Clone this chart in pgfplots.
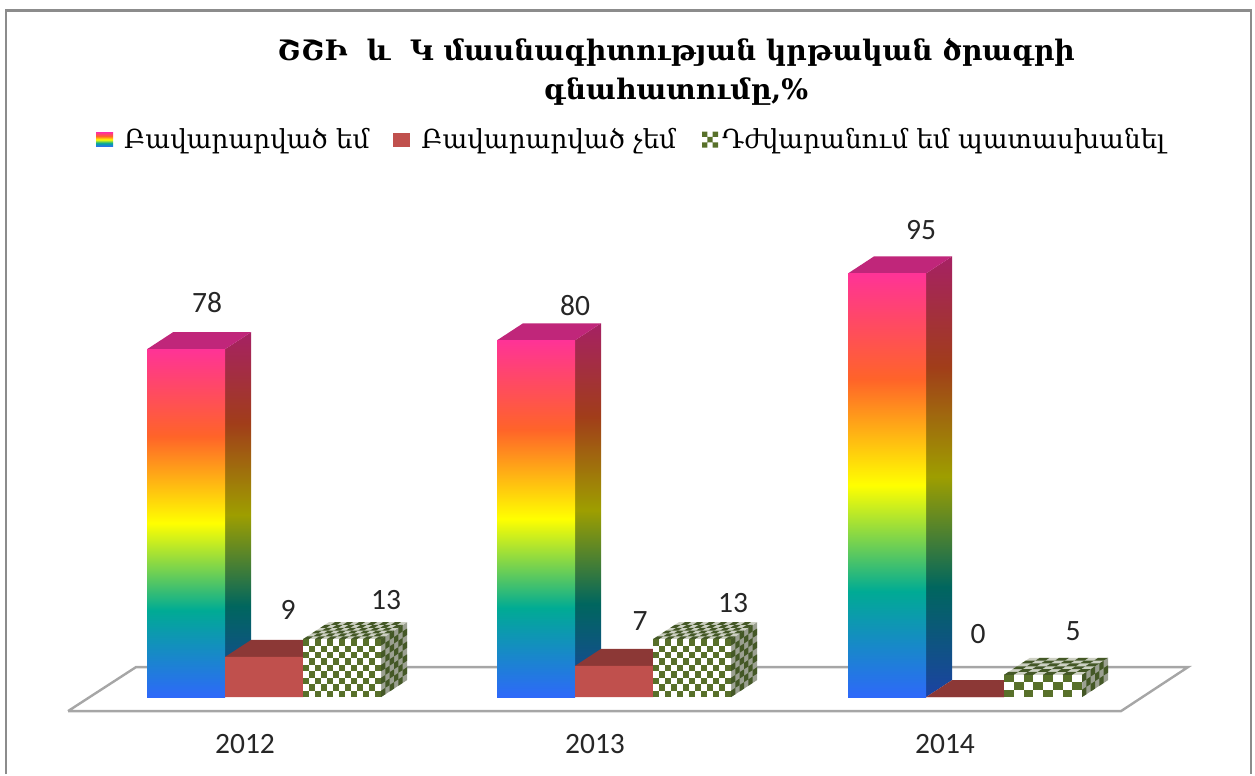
\documentclass[border=0pt]{standalone}
\usepackage{pgfplots}
\pgfplotsset{compat=1.18}
\usepackage{fontspec}
\setmainfont{Carlito}
\newfontfamily\armfont{DejaVu Serif}
\definecolor{s2front}{RGB}{192,80,77}
\definecolor{s2dark}{RGB}{140,56,54}
\definecolor{s3green}{RGB}{88,112,42}
\definecolor{s3dark}{RGB}{68,88,38}
\definecolor{s3top}{RGB}{205,208,195}
\definecolor{s3side}{RGB}{155,160,145}
\definecolor{s1top}{RGB}{192,38,122}
\definecolor{floorc}{RGB}{166,166,166}
\definecolor{framec}{RGB}{140,140,140}
\pgfdeclareverticalshading{rainbowfront}{100bp}{
 rgb(0bp)=(0.18,0.41,0.98);
 rgb(25bp)=(0.18,0.41,0.98);
 rgb(37.5bp)=(0,0.67,0.58);
 rgb(50bp)=(1,1,0);
 rgb(62.5bp)=(1,0.39,0.16);
 rgb(75bp)=(1,0.2,0.59);
 rgb(100bp)=(1,0.2,0.59)}
\pgfdeclareverticalshading{rainbowside}{100bp}{
 rgb(0bp)=(0.11,0.26,0.64);
 rgb(25bp)=(0.11,0.26,0.64);
 rgb(37.5bp)=(0,0.40,0.37);
 rgb(50bp)=(0.62,0.62,0);
 rgb(62.5bp)=(0.63,0.24,0.10);
 rgb(75bp)=(0.65,0.13,0.39);
 rgb(100bp)=(0.65,0.13,0.39)}
% sides and top of a box: x of front left, value, side style, top style
\newcommand{\boxsides}[4]{%
 \pgfmathsetmacro\xa{#1+78}\pgfmathsetmacro\xb{#1+104}\pgfmathsetmacro\xc{#1+26}\pgfmathsetmacro\yt{#2+3.81}%
 \addplot[forget plot,draw=none,#3] coordinates {(\xa,0)(\xb,3.81)(\xb,\yt)(\xa,#2)(\xa,0)};
 \addplot[forget plot,draw=none,#4] coordinates {(#1,#2)(\xc,\yt)(\xb,\yt)(\xa,#2)(#1,#2)};
}
% checker on a parallelogram
\newcommand{\checkface}[9]{%
 \pgfplotsextra{%
 \pgfmathsetmacro\dux{(#3)/#7}\pgfmathsetmacro\duy{(#4)/#7}%
 \pgfmathsetmacro\dvx{(#5)/#8}\pgfmathsetmacro\dvy{(#6)/#8}%
 \foreach \i in {1,...,#7}{\foreach \j in {1,...,#8}{%
  \pgfmathtruncatemacro\cellodd{mod(\i+\j,2)}%
  \ifnum\cellodd=0
   \pgfmathsetmacro\pax{#1+(\i-1)*\dux+(\j-1)*\dvx}\pgfmathsetmacro\pay{#2+(\i-1)*\duy+(\j-1)*\dvy}%
   \pgfmathsetmacro\pbx{\pax+\dux}\pgfmathsetmacro\pby{\pay+\duy}%
   \pgfmathsetmacro\pcx{\pbx+\dvx}\pgfmathsetmacro\pcy{\pby+\dvy}%
   \pgfmathsetmacro\pdx{\pax+\dvx}\pgfmathsetmacro\pdy{\pay+\dvy}%
   \fill[#9] (axis cs:\pax,\pay)--(axis cs:\pbx,\pby)--(axis cs:\pcx,\pcy)--(axis cs:\pdx,\pdy)--cycle;
  \fi}}}%
}
\newcommand{\checkbox}[4]{% x, value, columns, rows
 \checkface{#1}{0}{78}{0}{0}{#2}{#3}{#4}{s3green}%
 \checkface{#1+78}{0}{26}{3.81}{0}{#2}{6}{#4}{s3dark}%
 \checkface{#1}{#2}{78}{0}{26}{3.81}{#3}{6}{s3dark}%
}
\begin{document}
\begin{tikzpicture}
\begin{axis}[
 at={(0,0)},anchor=south west,
 scale only axis,width=1255pt,height=774pt,
 xmin=0,xmax=1255,ymin=-17.26,ymax=156.28,
 clip=false,
 axis line style={draw=none},
 major tick length=0pt,
 ytick=\empty,
 xtick={245,595,945},
 xticklabels={2012,2013,2014},
 xticklabel style={yshift=43pt,font=\fontsize{29.5}{31}\selectfont,text=black!85},
 legend columns=3,
 legend style={draw=none,fill=none,at={(axis cs:93,125)},anchor=west,
  font=\armfont\fontsize{26.2}{30}\selectfont,
  /tikz/column 1/.style={column sep=9pt},
  /tikz/column 2/.style={column sep=22pt},
  /tikz/column 3/.style={column sep=9pt},
  /tikz/column 4/.style={column sep=24pt},
  /tikz/column 5/.style={column sep=2pt},
  legend cell align=left},
]
% frame and floor
\addplot[forget plot,color=framec,line width=2.5pt] coordinates {(6,-17.26)(6,154)(1251,154)(1251,-17.26)};
\addplot[forget plot,color=floorc,line width=2.4pt] coordinates {(68,-3.14)(1121,-3.14)(1188,6.73)(136,6.73)(68,-3.14)};
% series 1
\boxsides{147}{78}{shade,shading=rainbowside}{fill=s1top}
\boxsides{497}{80}{shade,shading=rainbowside}{fill=s1top}
\boxsides{848}{95}{shade,shading=rainbowside}{fill=s1top}
\addplot[ybar,bar width=78,bar shift=0pt,draw=none,shade,shading=rainbowfront,
 legend image code/.code={\fill[shade,shading=rainbowfront] (0pt,-7pt) rectangle (17pt,7pt);}]
 coordinates {(186,78)};
\addlegendentry{Բավարարված եմ}
\addplot[forget plot,ybar,bar width=78,bar shift=0pt,draw=none,shade,shading=rainbowfront] coordinates {(536,80)};
\addplot[forget plot,ybar,bar width=78,bar shift=0pt,draw=none,shade,shading=rainbowfront] coordinates {(887,95)};
% series 2
\boxsides{225}{9}{fill=s2dark}{fill=s2dark}
\boxsides{575}{7}{fill=s2dark}{fill=s2dark}
\boxsides{926}{0}{fill=s2dark}{fill=s2dark}
\addplot[ybar,bar width=78,bar shift=0pt,draw=none,fill=s2front,
 legend image code/.code={\fill[s2front] (0pt,-7pt) rectangle (17pt,7pt);}]
 coordinates {(264,9)(614,7)(965,0)};
\addlegendentry{Բավարարված չեմ}
% series 3
\boxsides{303}{13}{fill=s3side}{fill=s3top}
\boxsides{653}{13}{fill=s3side}{fill=s3top}
\boxsides{1004}{5}{fill=s3side}{fill=s3top}
\addplot[ybar,bar width=78,bar shift=0pt,draw=none,fill=white,
 legend image code/.code={\fill[s3green] (0pt,-8pt) rectangle (5.3pt,-2.7pt) (10.6pt,-8pt) rectangle (16pt,-2.7pt) (5.3pt,-2.7pt) rectangle (10.6pt,2.7pt) (0pt,2.7pt) rectangle (5.3pt,8pt) (10.6pt,2.7pt) rectangle (16pt,8pt);}]
 coordinates {(342,13)(692,13)(1043,5)};
\addlegendentry{Դժվարանում եմ պատասխանել}
\checkbox{303}{13}{13}{9}
\checkbox{653}{13}{13}{9}
\checkbox{1004}{5}{8}{3}
% value labels
\addplot[forget plot,draw=none,point meta=explicit symbolic,nodes near coords,
 every node near coord/.append style={anchor=center,inner sep=0pt,font=\fontsize{29.5}{31}\selectfont,text=black!85}]
 coordinates {(207,88.5)[78](288,19.5)[9](386,21.7)[13](575,87.9)[80](640,17)[7](733,21.1)[13](921,104.7)[95](978,14.1)[0](1073,14.8)[5]};
% title
\node[align=center,font=\armfont\bfseries\fontsize{28.2}{39}\selectfont,text=black] at (axis cs:676,140.2) {ՇՇԻ\ \ և\ \ Կ մասնագիտության կրթական ծրագրի\\գնահատումը,\%};
\end{axis}
\end{tikzpicture}
\end{document}
